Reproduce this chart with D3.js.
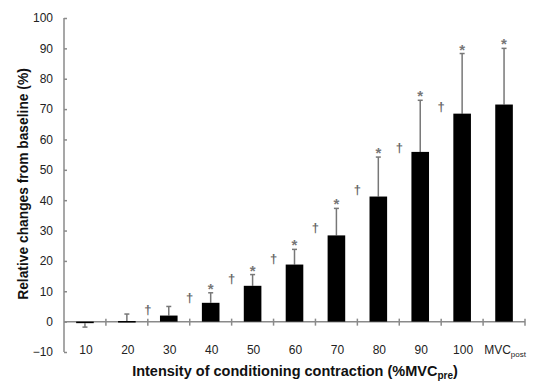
<!DOCTYPE html>
<html>
<head>
<meta charset="utf-8">
<script src="https://cdn.jsdelivr.net/npm/d3@7"></script>
<style>
  body { margin: 0; background: #fff; }
  text { font-family: "Liberation Sans", Arial, sans-serif; }
</style>
</head>
<body>
<div id="app"></div>
<script>
const categories = ["10", "20", "30", "40", "50", "60", "70", "80", "90", "100", "MVC"];
const means      = [-0.5, 0.2, 2.0, 6.2, 11.8, 18.8, 28.4, 41.2, 55.9, 68.5, 71.5];
const sds        = [1.3, 2.3, 3.0, 3.3, 3.7, 5.0, 8.9, 13.0, 17.0, 19.8, 18.5];
// asterisk: significant vs baseline
const starIdx    = [3, 4, 5, 6, 7, 8, 9, 10];
// dagger: significant vs previous intensity, placed between bars
const daggerIdx  = [1, 2, 3, 4, 5, 6, 7, 8];
const daggerY    = [4.6, 8.6, 14.8, 21.4, 31.4, 43.9, 58.0, 71.3];
const yTicks     = [-10, 0, 10, 20, 30, 40, 50, 60, 70, 80, 90, 100];

const W = 534, H = 381;
const margin = { top: 18, right: 9, bottom: 29, left: 64 };

const svg = d3.select("#app").append("svg")
  .attr("width", W).attr("height", H);

const x = d3.scaleBand()
  .domain(categories)
  .range([margin.left, W - margin.right])
  .padding(0);

const y = d3.scaleLinear()
  .domain([-10, 100])
  .range([H - margin.bottom, margin.top]);

const barW = x.bandwidth() * 0.42;
const axisCol = "#8a8a8a";
const markCol = "#777";

/* y axis */
const yAxis = svg.append("g")
  .attr("transform", `translate(${margin.left},0)`)
  .call(d3.axisLeft(y).tickValues(yTicks).tickSize(-3).tickPadding(11));
yAxis.select(".domain").attr("stroke", axisCol).attr("stroke-width", 1.5)
  .attr("d", `M0,${y(-10)}V${y(100)}`);
yAxis.selectAll(".tick line").attr("stroke", axisCol).attr("stroke-width", 1.5);
yAxis.selectAll(".tick text").attr("font-size", 12).attr("fill", "#222");

/* x axis at zero */
svg.append("line")
  .attr("x1", margin.left).attr("x2", W - margin.right)
  .attr("y1", y(0)).attr("y2", y(0))
  .attr("stroke", axisCol).attr("stroke-width", 1.5);

const bounds = categories.map(c => x(c) + x.bandwidth());
svg.selectAll(".xtick")
  .data(bounds)
  .enter().append("line")
  .attr("x1", d => d).attr("x2", d => d)
  .attr("y1", y(0) - 3).attr("y2", y(0) + 4)
  .attr("stroke", axisCol).attr("stroke-width", 1.5);

/* x tick labels */
const lab = svg.selectAll(".xlab")
  .data(categories)
  .enter().append("text")
  .attr("x", d => x(d) + x.bandwidth() / 2 + 1)
  .attr("y", 354)
  .attr("text-anchor", "middle")
  .attr("font-size", 12)
  .attr("fill", "#222");
lab.append("tspan").text(d => d);
lab.filter(d => d === "MVC").append("tspan")
  .attr("font-size", 8).attr("dy", 3).text("post");

/* error bars */
const errEnd = (m, s) => m < 0 ? m - s : m + s;
svg.selectAll(".err")
  .data(categories)
  .enter().append("line")
  .attr("x1", d => x(d) + x.bandwidth() / 2)
  .attr("x2", d => x(d) + x.bandwidth() / 2)
  .attr("y1", (d, i) => y(means[i]))
  .attr("y2", (d, i) => y(errEnd(means[i], sds[i])))
  .attr("stroke", markCol).attr("stroke-width", 1.5);
svg.selectAll(".cap")
  .data(categories)
  .enter().append("line")
  .attr("x1", d => x(d) + x.bandwidth() / 2 - 2.5)
  .attr("x2", d => x(d) + x.bandwidth() / 2 + 2.5)
  .attr("y1", (d, i) => y(errEnd(means[i], sds[i])))
  .attr("y2", (d, i) => y(errEnd(means[i], sds[i])))
  .attr("stroke", markCol).attr("stroke-width", 1.5);

/* bars */
svg.selectAll(".bar")
  .data(categories)
  .enter().append("rect")
  .attr("x", d => x(d) + x.bandwidth() / 2 - barW / 2)
  .attr("width", barW)
  .attr("y", (d, i) => Math.min(y(means[i]), y(0)))
  .attr("height", (d, i) => Math.max(Math.abs(y(means[i]) - y(0)), 1.5))
  .attr("fill", "#000");

/* asterisks */
svg.selectAll(".star")
  .data(starIdx)
  .enter().append("text")
  .attr("x", i => x(categories[i]) + x.bandwidth() / 2)
  .attr("y", i => y(means[i] + sds[i]) + 1)
  .attr("text-anchor", "middle")
  .attr("font-size", 15)
  .attr("font-weight", "bold")
  .attr("fill", markCol)
  .text("*");

/* daggers */
svg.selectAll(".dagger")
  .data(daggerIdx)
  .enter().append("text")
  .attr("x", i => x(categories[i]) + x.bandwidth())
  .attr("y", (i, k) => y(daggerY[k]) + 6)
  .attr("text-anchor", "middle")
  .attr("font-family", "DejaVu Sans")
  .attr("font-size", 13)
  .attr("font-weight", "bold")
  .attr("fill", "#666")
  .text("\u2020");

/* axis titles */
svg.append("text")
  .attr("transform", `translate(28,${(y(-10) + y(100)) / 2 - 1}) rotate(-90)`)
  .attr("text-anchor", "middle")
  .attr("font-size", 13.8)
  .attr("font-weight", "bold")
  .attr("fill", "#111")
  .text("Relative changes from baseline (%)");

const xt = svg.append("text")
  .attr("x", 295)
  .attr("y", 376)
  .attr("text-anchor", "middle")
  .attr("font-size", 14.5)
  .attr("font-weight", "bold")
  .attr("fill", "#111");
xt.append("tspan").text("Intensity of conditioning contraction (%MVC");
xt.append("tspan").attr("font-size", 10).attr("dy", 3).text("pre");
xt.append("tspan").attr("dy", -3).text(")");
</script>
</body>
</html>
